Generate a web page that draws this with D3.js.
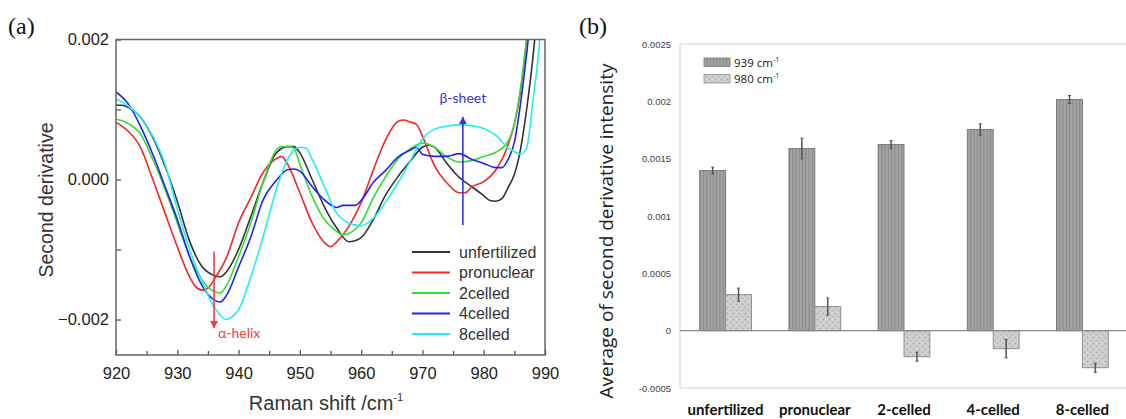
<!DOCTYPE html>
<html><head><meta charset="utf-8">
<script src="https://cdn.jsdelivr.net/npm/d3@7"></script>
<style>body{margin:0;background:#fff}svg{display:block}</style>
</head><body><svg id="c" width="1126" height="419"></svg>
<script>
// ---------- Panel (a): second-derivative spectra (values in units of 1e-3) ----------
const ramanTicks = [920, 930, 940, 950, 960, 970, 980, 990];
const ramanMinorTicks = [925, 935, 945, 955, 965, 975, 985];
const derivTicks = [-2, 0, 2];
const derivTickLabels = ["\u22120.002", "0.000", "0.002"];
const derivMinorTicks = [-1, 1];
const seriesNames = ["unfertilized", "pronuclear", "2celled", "4celled", "8celled"];
const seriesColors = ["#333333", "#f02828", "#33dd33", "#2222ee", "#22eeee"];

const unfertilized = [[920,1.06],[921,1.06],[922,1.03],[924,0.89],[926,0.60],[928,0.19],[930,-0.31],[932,-0.88],[934,-1.24],[936,-1.37],[937,-1.39],[938,-1.32],[940,-1.0],[942,-0.53],[944,-0.04],[946,0.36],[948,0.47],[949,0.47],[950,0.38],[952,0.0],[954,-0.39],[956,-0.69],[958,-0.89],[960,-0.83],[962,-0.57],[964,-0.22],[966,0.04],[968,0.26],[970,0.46],[971,0.49],[972,0.46],[974,0.23],[976,0.03],[978,-0.10],[980,-0.23],[981,-0.30],[982,-0.31],[983,-0.27],[984,-0.11],[985,0.07],[986,0.43],[987,1.0],[988,1.72],[989,2.6],[990,3.5]];
const pronuclear = [[920,0.82],[921,0.76],[922,0.69],[924,0.46],[926,0.0],[928,-0.48],[930,-0.96],[932,-1.39],[933,-1.53],[934,-1.58],[935,-1.55],[936,-1.43],[938,-1.12],[940,-0.62],[942,-0.26],[944,0.10],[946,0.29],[947,0.33],[948,0.22],[950,-0.19],[952,-0.62],[954,-0.90],[955,-0.96],[956,-0.89],[958,-0.67],[960,-0.33],[962,0.14],[964,0.57],[966,0.83],[967,0.85],[968,0.82],[969,0.79],[970,0.62],[972,0.19],[974,-0.05],[976,-0.19],[977,-0.19],[978,-0.11],[980,-0.03],[982,0.14],[984,0.50],[985,0.79],[986,1.26],[987,2.0],[988,2.8]];
const celled2 = [[920,0.86],[921,0.84],[922,0.80],[924,0.65],[926,0.29],[928,-0.14],[930,-0.62],[932,-1.10],[934,-1.43],[936,-1.60],[937,-1.62],[938,-1.52],[940,-1.10],[942,-0.62],[944,-0.04],[946,0.40],[947,0.47],[948,0.47],[949,0.45],[950,0.22],[952,-0.24],[954,-0.57],[956,-0.74],[957,-0.79],[958,-0.77],[960,-0.62],[962,-0.26],[964,0.04],[966,0.29],[968,0.44],[970,0.52],[972,0.46],[974,0.32],[976,0.25],[978,0.27],[980,0.33],[982,0.39],[984,0.55],[985,0.80],[986,1.3],[987,2.0],[988,2.8]];
const celled4 = [[920,1.25],[922,1.08],[924,0.76],[926,0.36],[928,-0.10],[930,-0.57],[932,-1.10],[934,-1.51],[936,-1.72],[937,-1.75],[938,-1.66],[940,-1.25],[942,-0.82],[944,-0.29],[946,-0.03],[948,0.14],[949,0.15],[950,0.12],[952,-0.10],[954,-0.29],[956,-0.40],[957,-0.37],[958,-0.37],[959,-0.37],[960,-0.30],[962,-0.04],[964,0.13],[966,0.32],[968,0.42],[969,0.46],[970,0.36],[972,0.33],[974,0.33],[976,0.37],[978,0.29],[980,0.23],[982,0.17],[983,0.17],[984,0.29],[985,0.53],[986,1.08],[987,1.79],[988,2.6]];
const celled8 = [[920,1.15],[922,1.05],[924,0.89],[926,0.62],[928,0.22],[930,-0.42],[932,-1.0],[934,-1.45],[936,-1.82],[938,-2.0],[939,-1.96],[940,-1.86],[942,-1.39],[944,-0.82],[946,-0.19],[948,0.29],[950,0.46],[951,0.45],[952,0.29],[954,-0.10],[956,-0.48],[958,-0.62],[960,-0.66],[962,-0.55],[964,-0.32],[966,-0.05],[968,0.26],[970,0.58],[972,0.72],[974,0.76],[976,0.78],[978,0.77],[980,0.73],[982,0.63],[984,0.45],[985,0.40],[986,0.36],[987,0.45],[988,1.1],[989,1.85],[990,3.0]];
const spectra = [unfertilized, pronuclear, celled2, celled4, celled8];

// annotations (data coordinates)
const alphaArrow = {x: 936, from: -1.03, to: -2.12, label: "\u03b1-helix"};
const betaArrow = {x: 976.6, from: -0.65, to: 0.89, label: "\u03b2-sheet"};

// ---------- Panel (b): bars ----------
const categories = ["unfertilized", "pronuclear", "2-celled", "4-celled", "8-celled"];
const band939 = [0.001396, 0.001588, 0.001623, 0.001754, 0.002016];
const err939 = [0.00003, 0.00009, 0.000035, 0.00005, 0.000035];
const band980 = [0.000314, 0.00021, -0.000227, -0.000157, -0.000323];
const err980 = [0.000057, 0.000075, 0.00004, 0.00008, 0.00004];
const intensityTicks = [-0.0005, 0, 0.0005, 0.001, 0.0015, 0.002, 0.0025];
const intensityTickLabels = ["-0.0005", "0", "0.0005", "0.001", "0.0015", "0.002", "0.0025"];
const legendB = ["939", "980"];

const svg = d3.select("#c");
const defs = svg.append("defs");

// ===================== Panel (a) =====================
const A = {l: 116, r: 545, t: 39.5, b: 355};
const xA = d3.scaleLinear().domain([920, 990]).range([A.l, A.r]);
const yA = d3.scaleLinear().domain([-2.507, 2.0]).range([A.b, A.t]);
const sans = "'Liberation Sans', Arial, sans-serif";

defs.append("clipPath").attr("id", "clipA").append("rect")
  .attr("x", A.l).attr("y", A.t).attr("width", A.r - A.l).attr("height", A.b - A.t);

const line = d3.line().x(d => xA(d[0])).y(d => yA(d[1])).curve(d3.curveMonotoneX);
const gLines = svg.append("g").attr("clip-path", "url(#clipA)");
spectra.forEach((s, i) => {
  gLines.append("path").attr("d", line(s)).attr("fill", "none")
    .attr("stroke", seriesColors[i]).attr("stroke-width", 1.6).attr("stroke-linejoin", "round");
});

// axes
const axL = svg.append("g").attr("transform", `translate(${A.l},0)`)
  .call(d3.axisLeft(yA).tickValues(derivTicks).tickSize(-5).tickPadding(7)
    .tickFormat((d, i) => derivTickLabels[i]));
svg.append("g").attr("transform", `translate(${A.l},0)`)
  .call(d3.axisLeft(yA).tickValues(derivMinorTicks).tickSize(-5).tickFormat(""));
const axB = svg.append("g").attr("transform", `translate(0,${A.b})`)
  .call(d3.axisBottom(xA).tickValues(ramanTicks).tickSize(-5).tickPadding(12).tickFormat(d3.format("d")));
svg.append("g").attr("transform", `translate(0,${A.b})`)
  .call(d3.axisBottom(xA).tickValues(ramanMinorTicks).tickSize(-4).tickFormat(""));
svg.selectAll(".domain").remove();
svg.selectAll(".tick line").attr("stroke", "#555").attr("stroke-width", 1.3);
axL.selectAll("text").attr("font-family", sans).attr("font-size", 16.5).attr("fill", "#222");
axB.selectAll("text").attr("font-family", sans).attr("font-size", 16.5).attr("fill", "#222");

svg.append("rect").attr("x", A.l).attr("y", A.t).attr("width", A.r - A.l).attr("height", A.b - A.t)
  .attr("fill", "none").attr("stroke", "#666").attr("stroke-width", 1.5);

// axis titles
svg.append("text").attr("transform", `translate(53,200) rotate(-90)`)
  .attr("text-anchor", "middle").attr("font-family", sans).attr("font-size", 19.5).attr("fill", "#333")
  .text("Second derivative");
const xt = svg.append("text").attr("x", 326).attr("y", 410).attr("text-anchor", "middle")
  .attr("font-family", sans).attr("font-size", 20).attr("fill", "#333");
xt.append("tspan").text("Raman shift /cm");
xt.append("tspan").attr("dy", -9).attr("font-size", 11).text("-1");

// legend
const legA = svg.append("g");
seriesNames.forEach((n, i) => {
  const y = 252 + i * 20.5;
  legA.append("line").attr("x1", 412).attr("x2", 450).attr("y1", y).attr("y2", y)
    .attr("stroke", seriesColors[i]).attr("stroke-width", 2);
  legA.append("text").attr("x", 459).attr("y", y + 5.5).attr("font-family", sans).attr("font-size", 16)
    .attr("fill", "#333").text(n);
});

// arrows
function marker(id, color) {
  defs.append("marker").attr("id", id).attr("viewBox", "0 0 10 10").attr("refX", 9).attr("refY", 5)
    .attr("markerWidth", 5).attr("markerHeight", 5).attr("orient", "auto-start-reverse")
    .append("path").attr("d", "M0,0L10,5L0,10z").attr("fill", color);
}
marker("arrR", "#f03c3c");
marker("arrB", "#3333dd");
svg.append("line").attr("x1", xA(alphaArrow.x)).attr("x2", xA(alphaArrow.x))
  .attr("y1", yA(alphaArrow.from)).attr("y2", yA(alphaArrow.to))
  .attr("stroke", "#f03c3c").attr("stroke-width", 1.6).attr("marker-end", "url(#arrR)");
svg.append("text").attr("x", xA(alphaArrow.x) + 4).attr("y", yA(alphaArrow.to) + 10)
  .attr("font-family", "Lato, sans-serif").attr("font-size", 14).attr("fill", "#f04040").text(alphaArrow.label);
svg.append("line").attr("x1", xA(betaArrow.x)).attr("x2", xA(betaArrow.x))
  .attr("y1", yA(betaArrow.from)).attr("y2", yA(betaArrow.to))
  .attr("stroke", "#3333dd").attr("stroke-width", 1.6).attr("marker-end", "url(#arrB)");
svg.append("text").attr("x", xA(betaArrow.x)).attr("y", yA(betaArrow.to) - 14)
  .attr("text-anchor", "middle").attr("font-family", "Lato, sans-serif").attr("font-size", 14)
  .attr("fill", "#3333dd").text(betaArrow.label);

// panel letters
svg.append("text").attr("x", 8).attr("y", 34).attr("font-family", "'Liberation Serif', serif")
  .attr("font-size", 24).attr("fill", "#111").text("(a)");
svg.append("text").attr("x", 579).attr("y", 34).attr("font-family", "'Liberation Serif', serif")
  .attr("font-size", 24).attr("fill", "#111").text("(b)");

// ===================== Panel (b) =====================
const B = {l: 680, r: 1127, t: 44, b: 388};
const yB = d3.scaleLinear().domain([-0.0005, 0.0025]).range([B.b, B.t]);
const x0 = d3.scaleBand().domain(categories).range([B.l + 1, B.r]).paddingInner(0.42).paddingOuter(0.21);
const x1 = d3.scaleBand().domain(legendB).range([0, x0.bandwidth()]);

// patterns
const p1 = defs.append("pattern").attr("id", "pStripe").attr("patternUnits", "userSpaceOnUse")
  .attr("width", 3.3).attr("height", 10);
p1.append("rect").attr("width", 3.3).attr("height", 10).attr("fill", "#a4a4a4");
p1.append("rect").attr("width", 1.1).attr("height", 10).attr("fill", "#8a8a8a");
const p2 = defs.append("pattern").attr("id", "pDots").attr("patternUnits", "userSpaceOnUse")
  .attr("width", 6).attr("height", 6);
p2.append("rect").attr("width", 6).attr("height", 6).attr("fill", "#cfcfcf");
p2.append("circle").attr("cx", 1.5).attr("cy", 1.5).attr("r", 1).attr("fill", "#b0b0b0");
p2.append("circle").attr("cx", 4.5).attr("cy", 4.5).attr("r", 1).attr("fill", "#b5b5b5");
p2.append("rect").attr("x", 3.5).attr("y", 0.5).attr("width", 1.2).attr("height", 1.2).attr("fill", "#e2e2e2");

svg.append("rect").attr("x", B.l).attr("y", B.t).attr("width", B.r - B.l).attr("height", B.b - B.t)
  .attr("fill", "none").attr("stroke", "#d9d9d9").attr("stroke-width", 1.2);

const axBL = svg.append("g").attr("transform", `translate(${B.l},0)`)
  .call(d3.axisLeft(yB).tickValues(intensityTicks).tickSize(0).tickPadding(9)
    .tickFormat((d, i) => intensityTickLabels[i]));
axBL.select(".domain").remove();
axBL.selectAll("text").attr("font-family", sans).attr("font-size", 9.5).attr("fill", "#444");

const series = [
  {key: "939", vals: band939, errs: err939, fill: "url(#pStripe)", stroke: "#7a7a7a"},
  {key: "980", vals: band980, errs: err980, fill: "url(#pDots)", stroke: "#8f8f8f"}
];
series.forEach(s => {
  categories.forEach((c, i) => {
    const v = s.vals[i];
    const x = x0(c) + x1(s.key);
    svg.append("rect").attr("x", x).attr("width", x1.bandwidth())
      .attr("y", yB(Math.max(0, v))).attr("height", Math.abs(yB(v) - yB(0)))
      .attr("fill", s.fill).attr("stroke", s.stroke).attr("stroke-width", 1);
  });
});
// zero line
svg.append("line").attr("x1", B.l).attr("x2", B.r).attr("y1", yB(0)).attr("y2", yB(0))
  .attr("stroke", "#888").attr("stroke-width", 1.2);
// error bars
series.forEach(s => {
  categories.forEach((c, i) => {
    const cx = x0(c) + x1(s.key) + x1.bandwidth() / 2;
    const v = s.vals[i], e = s.errs[i];
    svg.append("line").attr("x1", cx).attr("x2", cx).attr("y1", yB(v + e)).attr("y2", yB(v - e))
      .attr("stroke", "#555").attr("stroke-width", 1.5);
    [v + e, v - e].forEach(t => svg.append("line").attr("x1", cx - 1.5).attr("x2", cx + 1.5)
      .attr("y1", yB(t)).attr("y2", yB(t)).attr("stroke", "#555").attr("stroke-width", 1));
  });
});

// category labels
categories.forEach(c => {
  svg.append("text").attr("x", x0(c) + x0.bandwidth() / 2).attr("y", 415)
    .attr("text-anchor", "middle").attr("font-family", "Lato, sans-serif").attr("font-weight", "bold")
    .attr("font-size", 15).attr("fill", "#111").text(c);
});

// y title
svg.append("text").attr("transform", `translate(613,231) rotate(-90)`).attr("text-anchor", "middle")
  .attr("font-family", "'Open Sans', sans-serif").attr("font-size", 19).attr("fill", "#222")
  .text("Average of second derivative intensity");

// legend (b)
legendB.forEach((k, i) => {
  const y = 58 + i * 16.5;
  svg.append("rect").attr("x", 704).attr("y", y).attr("width", 26).attr("height", 8.5)
    .attr("fill", series[i].fill).attr("stroke", series[i].stroke).attr("stroke-width", 0.8);
  const t = svg.append("text").attr("x", 734).attr("y", y + 8.5).attr("font-family", "'Open Sans', sans-serif")
    .attr("font-size", 11.5).attr("fill", "#222");
  t.append("tspan").text(k + " cm");
  t.append("tspan").attr("dy", -5).attr("font-size", 7).text("-1");
});
</script></body></html>
